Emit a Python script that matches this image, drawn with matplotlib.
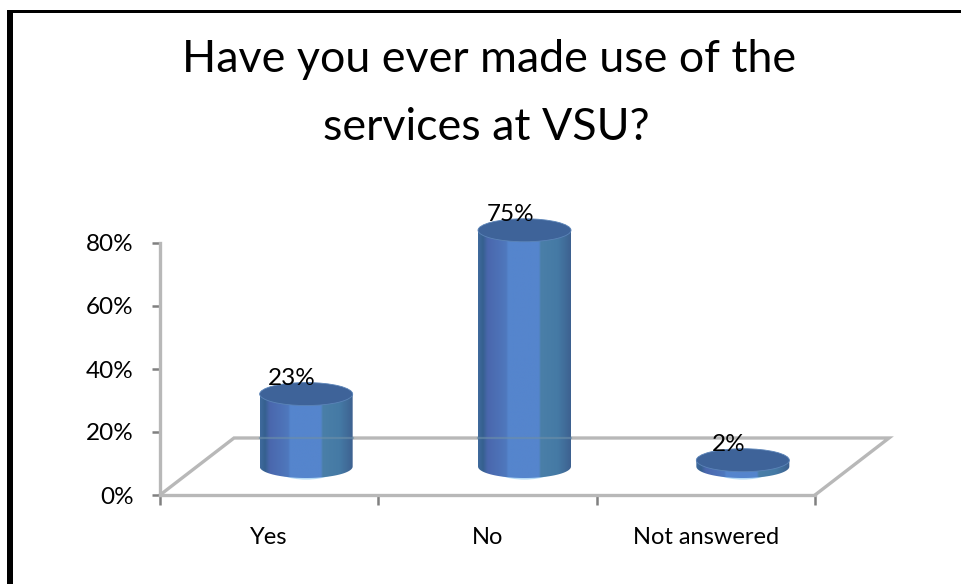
import numpy as np
import matplotlib
matplotlib.use('Agg')
import matplotlib.pyplot as plt
from matplotlib.colors import LinearSegmentedColormap
from matplotlib.patches import Ellipse, PathPatch, Rectangle
from matplotlib.path import Path

categories = ['Yes', 'No', 'Not answered']
values = [0.23, 0.75, 0.02]
value_labels = ['23%', '75%', '2%']
y_ticks = [0, 0.2, 0.4, 0.6, 0.8]
y_tick_labels = ['0%', '20%', '40%', '60%', '80%']

W, H = 962, 584
plt.rcParams['font.family'] = ['Lato', 'DejaVu Sans']

fig = plt.figure(figsize=(W / 100, H / 100), dpi=100)
ax = fig.add_axes([160 / W, 1 - 495 / H, 655 / W, 252 / H])

# depth of the fake 3d floor, in data units
depth_x = 74 / 218.33
depth_y = 57 / 315
half_w = 46.5 / 218.33
ell_h = 23 / 315

GRID = '#b8b8b8'
side = LinearSegmentedColormap.from_list('side', [
    (0.0, '#3f6a9c'), (0.05, '#35608f'), (0.1, '#4a67ad'), (0.3, '#4f78bd'),
    (0.32, '#5585cd'), (0.65, '#5585cd'), (0.67, '#4a7fa8'), (0.85, '#457aa5'),
    (1.0, '#3d608f')])
grad = np.linspace(0, 1, 200).reshape(1, -1)

# floor
fx = np.array([-0.5, -0.5 + depth_x, 2.5 + depth_x, 2.5])
fy = np.array([0, depth_y, depth_y, 0])
ax.plot(fx, fy, color=GRID, lw=2.4, clip_on=False, zorder=1, solid_joinstyle='miter')

for i, v in enumerate(values):
    cx = i + depth_x / 2
    by = depth_y / 2
    t = np.linspace(np.pi, 2 * np.pi, 60)
    arc_x = cx + half_w * np.cos(t)
    arc_y = by + ell_h / 2 * np.sin(t)
    px = np.r_[arc_x, cx + half_w, cx - half_w, cx - half_w]
    py = np.r_[arc_y, by + v, by + v, by]
    # pale rim under the bar
    rim = Ellipse((cx, by - 0.002), 2 * half_w * 0.7, ell_h + 0.006, color='#b5daf5', zorder=2, lw=0)
    ax.add_patch(rim)
    clip = PathPatch(Path(np.c_[px, py]), transform=ax.transData, fc='none', ec='none', clip_on=False)
    ax.add_patch(clip)
    im = ax.imshow(grad, cmap=side, extent=[cx - half_w, cx + half_w, by - ell_h, by + v],
                   aspect='auto', zorder=3, interpolation='bilinear')
    im.set_clip_path(clip)
    im.set_clip_box(fig.bbox)
    top = Ellipse((cx, by + v), 2 * half_w, ell_h, fc='#3e6399', ec='#5b84b8', lw=0.6, zorder=4, clip_on=False)
    ax.add_patch(top)
    # floor line shows faintly through the bar
    if v > 0.1:
        ax.plot([cx - half_w, cx + half_w], [depth_y, depth_y], color='#6d8fa8', lw=1.6, alpha=0.6, zorder=5)
    ax.annotate(value_labels[i], (cx, by + v), xytext=(-14, 16), textcoords='offset pixels',
                ha='center', va='center', fontsize=17.5, color='black', zorder=6, annotation_clip=False)

ax.set_xlim(-0.5, 2.5)
ax.set_ylim(0, 0.8)
for s in ['top', 'right']:
    ax.spines[s].set_visible(False)
for s in ['left', 'bottom']:
    ax.spines[s].set_color(GRID)
    ax.spines[s].set_linewidth(2.4)

ax.set_yticks(y_ticks)
ax.set_yticklabels(y_tick_labels, fontsize=17.5)
ax.tick_params(axis='y', color='#808080', width=1.8, length=6, pad=13)
ax.set_xticks([-0.5, 0.5, 1.5, 2.5])
ax.set_xticklabels([])
ax.tick_params(axis='x', which='major', color='#808080', width=1.8, length=7)
ax.set_xticks([0, 1, 2], minor=True)
ax.set_xticklabels(categories, minor=True, fontsize=17)
ax.tick_params(axis='x', which='minor', length=0, pad=23)

fig.text(489 / W, 1 - 60 / H, 'Have you ever made use of the', ha='center', va='center', fontsize=32.2)
fig.text(486 / W, 1 - 127 / H, 'services at VSU?', ha='center', va='center', fontsize=32.2)

# black frame: only top and left edges reach into the picture
fig.add_artist(Rectangle((7 / W, 0), 6 / W, 1 - 10 / H, transform=fig.transFigure, fc='black', ec='none'))
fig.add_artist(Rectangle((7 / W, 1 - 13 / H), 1 - 7 / W, 3 / H, transform=fig.transFigure, fc='black', ec='none'))

fig.savefig('out.png', dpi=100)
